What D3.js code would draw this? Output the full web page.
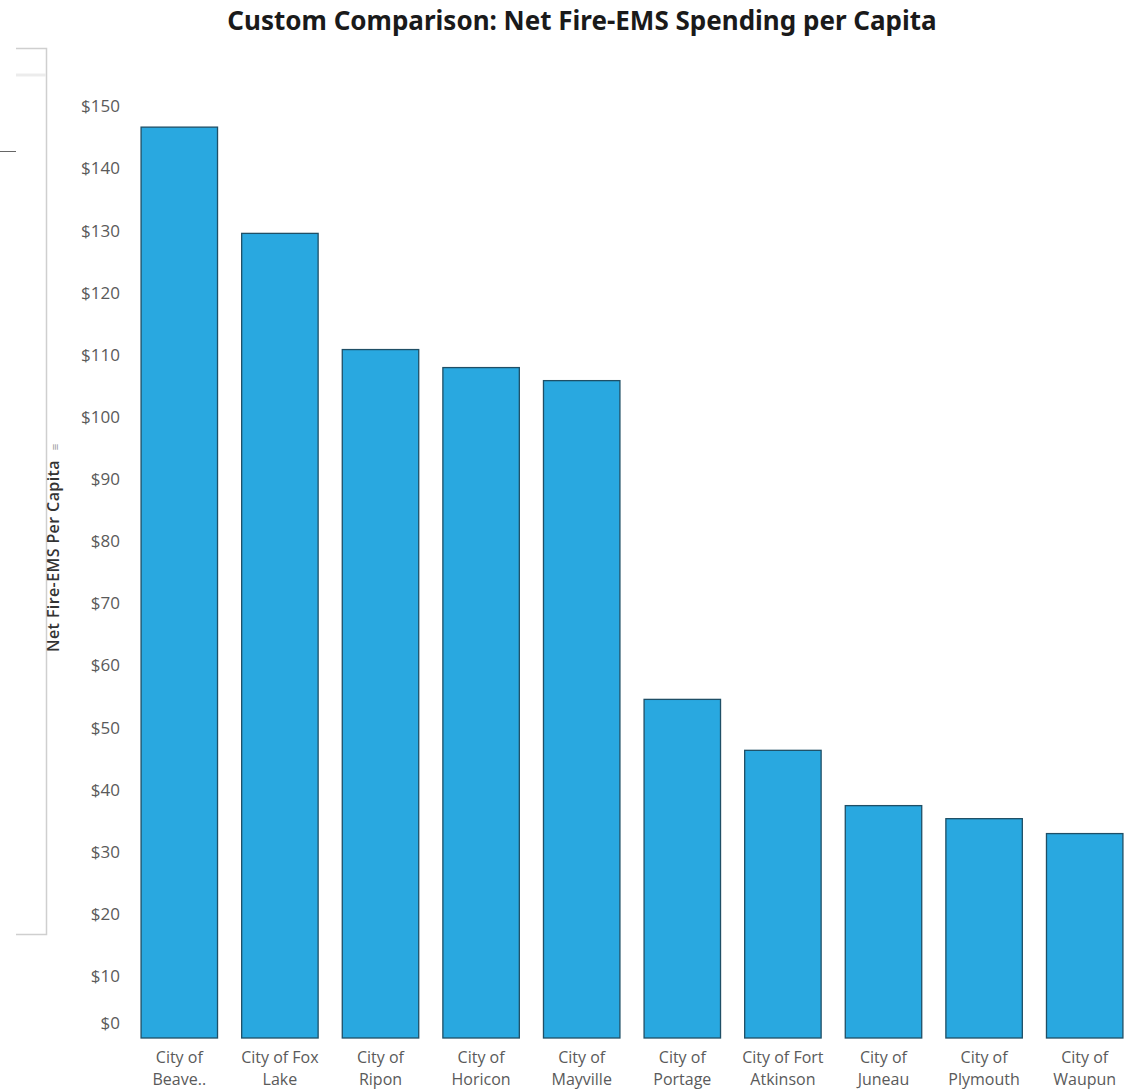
<!DOCTYPE html>
<html>
<head>
<meta charset="utf-8">
<script src="https://cdn.jsdelivr.net/npm/d3@7"></script>
<style>
  body { margin: 0; background: #fff; }
  svg { display: block; }
</style>
</head>
<body>
<div id="chart"></div>
<script>
// chart data
var cities = ["City of Beave..", "City of Fox Lake", "City of Ripon", "City of Horicon", "City of Mayville",
              "City of Portage", "City of Fort Atkinson", "City of Juneau", "City of Plymouth", "City of Waupun"];
// two-line labels as shown under each bar
var labelLines = [["City of", "Beave.."], ["City of Fox", "Lake"], ["City of", "Ripon"], ["City of", "Horicon"],
                  ["City of", "Mayville"], ["City of", "Portage"], ["City of Fort", "Atkinson"], ["City of", "Juneau"],
                  ["City of", "Plymouth"], ["City of", "Waupun"]];
var spending = [146.6, 129.5, 110.8, 107.9, 105.8, 54.5, 46.3, 37.4, 35.3, 32.9];
var tickValues = [0, 10, 20, 30, 40, 50, 60, 70, 80, 90, 100, 110, 120, 130, 140, 150];

var width = 1129, height = 1091;
var font = "'Open Sans', 'Noto Sans', sans-serif";

var svg = d3.select("#chart")
  .append("svg")
    .attr("width", width)
    .attr("height", height);

// leftover panel lines on the left side
var panel = svg.append("g").attr("fill", "none");
panel.append("path")
    .attr("d", "M16,48.5H46.5V934.5H16")
    .attr("stroke", "#cfcfcf")
    .attr("stroke-width", 1.5);
panel.append("line")
    .attr("x1", 16).attr("x2", 46).attr("y1", 75).attr("y2", 75)
    .attr("stroke", "#ececec")
    .attr("stroke-width", 3);
panel.append("line")
    .attr("x1", 0).attr("x2", 16).attr("y1", 151.5).attr("y2", 151.5)
    .attr("stroke", "#666")
    .attr("stroke-width", 1);

// title
svg.append("text")
    .attr("x", 582)
    .attr("y", 30)
    .attr("text-anchor", "middle")
    .style("font-family", "'Noto Sans', 'Open Sans', sans-serif")
    .style("font-weight", "bold")
    .style("font-size", "26px")
    .style("fill", "#1a1a1a")
    .text("Custom Comparison: Net Fire-EMS Spending per Capita");

// scales
var x = d3.scaleBand()
    .domain(cities)
    .range([129, 1135])
    .paddingInner(0.24)
    .paddingOuter(0.12);

var y = d3.scaleLinear()
    .domain([0, 150])
    .range([1038, 106]);

// y axis (tick labels only)
var yAxis = svg.append("g")
    .attr("transform", "translate(122,0)")
    .call(d3.axisLeft(y).tickValues(tickValues).tickSize(0).tickFormat(function(d) { return "$" + d; }));
yAxis.select(".domain").remove();
yAxis.selectAll("text")
    .attr("x", -2)
    .attr("dy", "0.34em")
    .attr("transform", function(d) { return d === 0 ? "translate(0,-15)" : null; })
    .style("font-family", font)
    .style("font-size", "17px")
    .style("fill", "#5a5a5a");

// y axis title
svg.append("text")
    .attr("transform", "translate(59,556) rotate(-90)")
    .attr("text-anchor", "middle")
    .style("font-family", font)
    .style("font-weight", "600")
    .style("font-size", "16px")
    .style("letter-spacing", "0.4px")
    .style("fill", "#333")
    .text("Net Fire-EMS Per Capita");
svg.append("text")
    .attr("transform", "translate(59,447) rotate(-90)")
    .attr("text-anchor", "middle")
    .style("font-family", font)
    .style("font-size", "11px")
    .style("fill", "#999")
    .text("\u2261");

// bars
svg.append("g")
  .selectAll("rect")
  .data(spending)
  .enter()
  .append("rect")
    .attr("x", function(d, i) { return x(cities[i]); })
    .attr("y", function(d) { return y(d); })
    .attr("width", x.bandwidth())
    .attr("height", function(d) { return y(0) - y(d); })
    .attr("fill", "#29a8e0")
    .attr("stroke", "#1f4f66")
    .attr("stroke-width", 1.3);

// category labels
var lab = svg.append("g")
  .selectAll("text")
  .data(labelLines)
  .enter()
  .append("text")
    .attr("text-anchor", "middle")
    .attr("x", function(d, i) { return x(cities[i]) + x.bandwidth() / 2; })
    .attr("y", 1063)
    .style("font-family", font)
    .style("font-size", "16px")
    .style("fill", "#5a5a5a");
lab.selectAll("tspan")
  .data(function(d) { return d; })
  .enter()
  .append("tspan")
    .attr("x", function() { return d3.select(this.parentNode).attr("x"); })
    .attr("dy", function(d, i) { return i === 0 ? 0 : 22; })
    .text(function(d) { return d; });
</script>
</body>
</html>
